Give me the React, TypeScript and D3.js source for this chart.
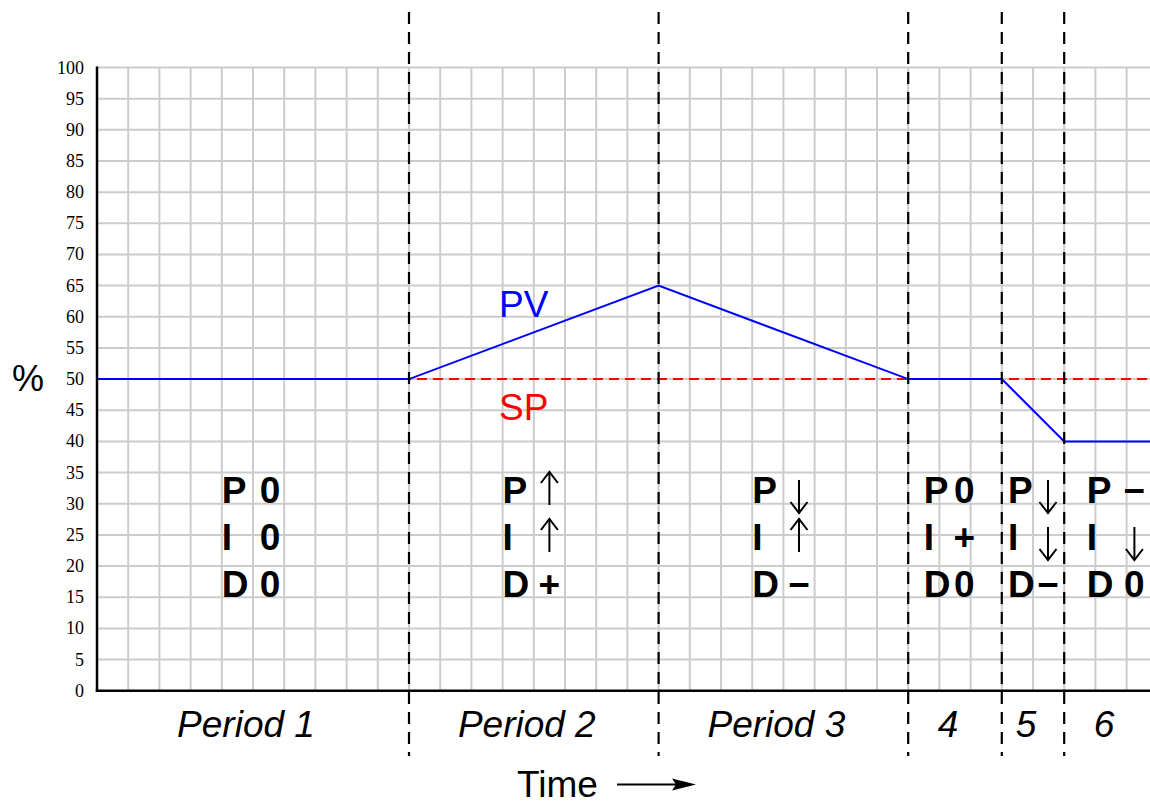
import React from "react";
import * as d3 from "d3";

// ---- data ----
const yTickValues = [0, 5, 10, 15, 20, 25, 30, 35, 40, 45, 50, 55, 60, 65, 70, 75, 80, 85, 90, 95, 100];
const gridColumns = [1, 2, 3, 4, 5, 6, 7, 8, 9, 10, 11, 12, 13, 14, 15, 16, 17, 18, 19, 20, 21, 22, 23, 24, 25, 26, 27, 28, 29, 30, 31, 32, 33];
const periodBoundaries = [10, 18, 26, 29, 31];
const periodLabels = ["Period 1", "Period 2", "Period 3", "4", "5", "6"];
const periodLabelCenters = [5, 14, 22, 27.5, 30, 32.5];
const pvTime = [0, 10, 18, 26, 29, 31, 33.75];
const pvValue = [50, 50, 65, 50, 50, 40, 40];
const spTime = [0, 33.75];
const spValue = [50, 50];
const pidLetters = ["P", "I", "D"];
const pidSymbols = [
  ["0", "0", "0"],
  ["up", "up", "+"],
  ["down", "up", "-"],
  ["0", "+", "0"],
  ["down", "down", "-"],
  ["-", "down", "0"],
];
const pidLetterX = [4, 13, 21, 26.5, 29.2, 31.72];
const pidSymbolX = [5.55, 14.5, 22.5, 27.8, 30.48, 33.25];

export default function App() {
  const W = 1150, H = 805;
  const x = d3.scaleLinear().domain([0, 33.75]).range([97, 1150]);
  const y = d3.scaleLinear().domain([0, 100]).range([690.7, 67.5]);
  const line = d3.line<[number, number]>().x((d) => x(d[0])).y((d) => y(d[1]));
  const pvPts: [number, number][] = pvTime.map((t, i) => [t, pvValue[i]]);
  const spPts: [number, number][] = spTime.map((t, i) => [t, spValue[i]]);
  const rowBase = [503, 550, 597];
  const sans = "'Liberation Sans', Arial, sans-serif";

  const arrow = (cx: number, baseY: number, dir: string, key: string) => {
    let y1: number, y2: number;
    if (dir === "up") { y1 = baseY - 31; y2 = baseY + 2; }
    else { y1 = baseY - 23; y2 = baseY + 10; }
    const tipY = dir === "up" ? y1 : y2;
    const s = dir === "up" ? 1 : -1;
    return (
      <g key={key} stroke="#000" strokeWidth={2} fill="none">
        <line x1={cx} x2={cx} y1={y1} y2={y2} />
        <path d={`M${cx - 8.5},${tipY + s * 11} L${cx},${tipY} L${cx + 8.5},${tipY + s * 11}`} />
      </g>
    );
  };

  return (
    <svg width={W} height={H} style={{ position: "absolute", left: 0, top: 0, background: "#fff" }}>
      <rect width={W} height={H} fill="#fff" />
      {/* grid */}
      <g stroke="#cccccc" strokeWidth={2}>
        {gridColumns.map((c) => (
          <line key={"v" + c} x1={x(c)} x2={x(c)} y1={y(100)} y2={y(0)} />
        ))}
        {yTickValues.filter((v) => v > 0).map((v) => (
          <line key={"h" + v} x1={x(0)} x2={W} y1={y(v)} y2={y(v)} />
        ))}
      </g>
      {/* y tick labels */}
      <g fontFamily="'Liberation Serif', 'Times New Roman', serif" fontSize={18} textAnchor="end">
        {yTickValues.map((v) => (
          <text key={v} x={84} y={y(v) + 6}>{v}</text>
        ))}
      </g>
      <text x={28} y={391} fontFamily={sans} fontSize={36} textAnchor="middle">%</text>
      {/* SP and PV */}
      <path d={line(spPts) || ""} stroke="#ff0000" strokeWidth={2} strokeDasharray="10,6" fill="none" />
      <path d={line(pvPts) || ""} stroke="#0000ff" strokeWidth={2} fill="none" />
      <text x={499} y={317} fill="#0000ff" fontFamily={sans} fontSize={37}>PV</text>
      <text x={499} y={420} fill="#ff0000" fontFamily={sans} fontSize={37}>SP</text>
      {/* axes */}
      <line x1={x(0)} x2={x(0)} y1={y(100) - 1} y2={y(0) + 1.2} stroke="#000" strokeWidth={2.5} />
      <line x1={x(0) - 1.2} x2={W} y1={y(0)} y2={y(0)} stroke="#000" strokeWidth={2.5} />
      {/* period boundaries */}
      {periodBoundaries.map((b) => (
        <line key={"pb" + b} x1={x(b)} x2={x(b)} y1={12} y2={756} stroke="#000" strokeWidth={2.2} strokeDasharray="12,8" />
      ))}
      {/* period labels */}
      {periodLabels.map((l, i) => (
        <text key={l} x={x(periodLabelCenters[i]) - 7} y={737} fontFamily={sans} fontStyle="italic" fontSize={37} textAnchor="middle">{l}</text>
      ))}
      {/* PID table */}
      {pidSymbols.map((syms, pi) => (
        <g key={"pid" + pi}>
          {pidLetters.map((L, ri) => (
            <text key={L} x={x(pidLetterX[pi])} y={rowBase[ri]} fontFamily={sans} fontWeight="bold" fontSize={37}>{L}</text>
          ))}
          {syms.map((s, ri) => {
            const cx = x(pidSymbolX[pi]);
            if (s === "up" || s === "down") return arrow(cx, rowBase[ri], s, "a" + ri);
            const ch = s === "-" ? "\u2212" : s;
            return (
              <text key={"s" + ri} x={cx} y={rowBase[ri]} fontFamily={sans} fontWeight="bold" fontSize={37} textAnchor="middle">{ch}</text>
            );
          })}
        </g>
      ))}
      {/* time label */}
      <text x={517} y={797} fontFamily={sans} fontSize={37}>Time</text>
      <line x1={617} x2={680} y1={784.5} y2={784.5} stroke="#000" strokeWidth={2} />
      <path d="M696,784.5 L672,778.5 L676,784.5 L672,790.5 Z" fill="#000" />
    </svg>
  );
}
